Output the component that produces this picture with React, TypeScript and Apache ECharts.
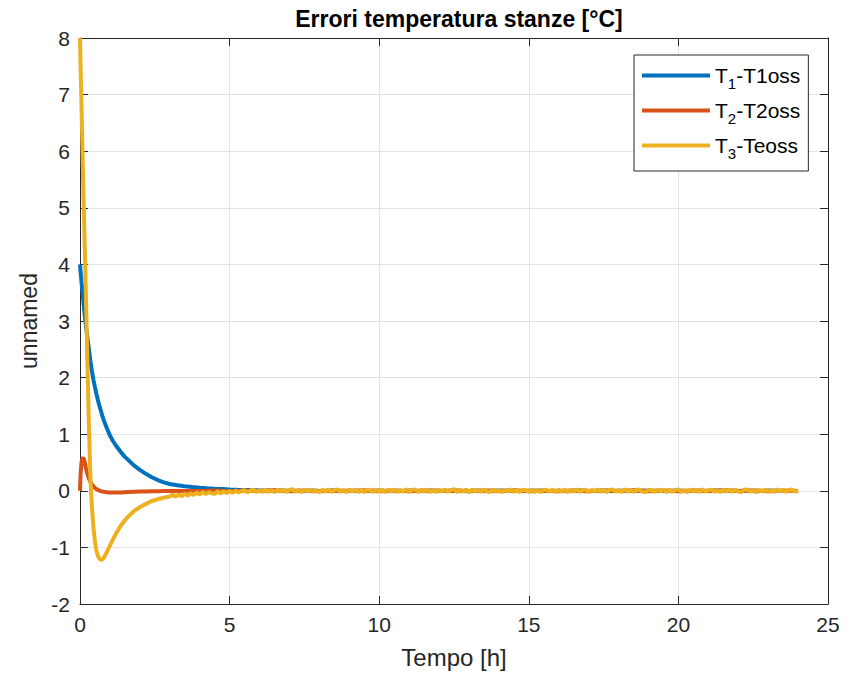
import React, { useEffect, useRef } from "react";
import * as echarts from "echarts";

// Shared sample times for the transient part (hours)
const transientTimes = [
  0, 0.02, 0.05, 0.08, 0.1, 0.13, 0.16, 0.2, 0.25, 0.3, 0.35, 0.4, 0.45, 0.5,
  0.55, 0.6, 0.65, 0.7, 0.75, 0.8, 0.9, 1.0, 1.1, 1.2, 1.3, 1.4, 1.5, 1.6, 1.8,
  2.0, 2.2, 2.4, 2.6, 2.8, 3.0,
];

// T1 - T1oss (blue)
const t1Transient = [
  4.0, 3.87, 3.69, 3.52, 3.41, 3.25, 3.1, 2.91, 2.69, 2.49, 2.29, 2.11, 1.96,
  1.83, 1.71, 1.6, 1.5, 1.41, 1.32, 1.24, 1.1, 0.98, 0.88, 0.8, 0.73, 0.66,
  0.6, 0.55, 0.45, 0.37, 0.3, 0.24, 0.19, 0.15, 0.12,
];
// T2 - T2oss (orange)
const t2Transient = [
  0, 0.3, 0.5, 0.57, 0.58, 0.56, 0.5, 0.4, 0.29, 0.21, 0.16, 0.11, 0.08, 0.05,
  0.03, 0.015, 0.005, -0.005, -0.012, -0.018, -0.025, -0.03, -0.032, -0.032,
  -0.03, -0.028, -0.025, -0.022, -0.018, -0.014, -0.011, -0.009, -0.007,
  -0.005, -0.004,
];
// T3 - Teoss (yellow)
const t3Transient = [
  8.0, 7.5, 6.8, 6.1, 5.6, 4.95, 4.3, 3.4, 2.2, 1.1, 0.2, -0.3, -0.65, -0.9,
  -1.06, -1.15, -1.2, -1.22, -1.21, -1.18, -1.08, -0.97, -0.86, -0.76, -0.67,
  -0.59, -0.52, -0.46, -0.36, -0.29, -0.23, -0.18, -0.15, -0.12, -0.1,
];

// Steady-state parts (noisy around zero)
const t1SteadyStart = 3.25;
const t1SteadyStep = 0.25;
const t1Steady = [
  0.098, 0.08, 0.066, 0.055, 0.045, 0.036, 0.03, 0.024, 0.019, 0.015, 0.012,
  0.009, 0.007, 0.005, 0.004,
  0.002, 0.003, -0.002, 0.004, -0.003, 0.002, 0.005, -0.004, 0.001, 0.003,
  -0.005, 0.002, 0.004, -0.002, 0.003, -0.004, 0.005, 0.0, -0.003, 0.004,
  0.002, -0.005, 0.003, 0.001, -0.002, 0.004, -0.004, 0.002, 0.005, -0.001,
  0.003, -0.003, 0.002, 0.004, 0.0, -0.002, 0.003, -0.004, 0.002, 0.005,
  -0.003, 0.001, 0.004, -0.002, 0.003, -0.005, 0.002, 0.004, -0.001, 0.003,
  -0.004, 0.002, 0.005, -0.002, 0.003, 0.0, -0.003, 0.004, 0.001, 0.002,
  -0.004, 0.003, 0.001, -0.002, 0.004, 0.0,
];
const t2SteadyStart = 3.5;
const t2SteadyStep = 0.5;
const t2Steady = [
  -0.003, -0.002, 0.004, -0.006, 0.007, -0.004, 0.008, -0.007, 0.005, -0.008,
  0.006, -0.003, 0.008, -0.006, 0.004, -0.007, 0.007, -0.005, 0.006, -0.008,
  0.005, -0.004, 0.008, -0.007, 0.003, -0.006, 0.007, -0.008, 0.006, -0.004,
  0.008, -0.006, 0.005, -0.007, 0.006, -0.005, 0.008, -0.003, 0.007, -0.006,
  0.004, -0.005,
];
const t3SteadyStart = 3.1;
const t3SteadyStep = 0.1;
const t3Steady = [
  -0.07, -0.105, -0.065, -0.095, -0.05, -0.085, -0.04, -0.075, -0.03, -0.065,
  -0.02, -0.06, -0.025, -0.04, -0.055, -0.01, -0.045, -0.005, -0.04, 0.0,
  -0.035, 0.005, -0.03, -0.002, 0.01, -0.028, 0.005, 0.018, -0.025, 0.012,
  -0.02, 0.022, -0.018, 0.014, -0.024, 0.02, -0.013, 0.025, -0.022, 0.015,
  0.028, -0.02, 0.016, -0.026, 0.021, -0.014, 0.024, -0.019, 0.013, -0.025,
  0.019, -0.016, 0.026, -0.022, 0.012, 0.023, -0.018, 0.017, -0.027, 0.02,
  -0.013, 0.025, -0.021, 0.016, -0.024, 0.022, 0.004, -0.019, 0.027, -0.016,
  0.018, -0.025, 0.021, -0.012, 0.024, -0.022, 0.015, -0.017, 0.026, -0.02,
  0.013, 0.022, -0.026, 0.019, -0.014, 0.025, -0.021, 0.016, -0.023, 0.02,
  -0.016, 0.024, -0.019, 0.012, 0.027, -0.024, 0.017, -0.013, 0.022, -0.026,
  0.021, -0.015, 0.018, -0.022, 0.025, -0.012, -0.02, 0.023, -0.017, 0.014,
  -0.025, 0.02, -0.014, 0.026, -0.019, 0.016, -0.023, 0.021, 0.011, -0.018,
  0.024, -0.021, 0.015, -0.026, 0.019, 0.013, -0.017, 0.025, -0.022, 0.018,
  -0.012, 0.023, -0.024, 0.016, -0.015, 0.027, -0.02, 0.014, 0.021, -0.025,
  0.017, -0.013, 0.024, -0.019, 0.02, -0.026, 0.015, 0.022, -0.016, 0.012,
  -0.023, 0.026, -0.018, 0.019, -0.021, 0.014, 0.023, -0.014, -0.025, 0.02,
  0.016, -0.022, 0.025, -0.012, 0.018, -0.024, 0.021, -0.017, 0.013, 0.024,
  -0.02, 0.015, -0.026, 0.022, -0.011, 0.019, -0.023, 0.026, -0.016, 0.014,
  0.021, -0.019, 0.012, -0.025, 0.023, -0.014, 0.018, -0.021, 0.025, -0.013,
  -0.022, 0.017, 0.024, -0.018, 0.013, -0.026, 0.02, -0.015, 0.022, -0.02,
  0.015, -0.023, 0.026, -0.012, 0.019, -0.021, 0.014, 0.023, -0.017, 0.005,
];

const seriesNames = ["T1-T1oss", "T2-T2oss", "T3-Teoss"];
const legendLabels = [
  "{n|T}{s|1}{n|-T1oss}",
  "{n|T}{s|2}{n|-T2oss}",
  "{n|T}{s|3}{n|-Teoss}",
];
const seriesColors = ["#0072BD", "#D95319", "#EDB120"];

const xTickInterval = 5;
const xMin = 0;
const xMax = 25;
const yTickInterval = 1;
const yMin = -2;
const yMax = 8;

const titleText = "Errori temperatura stanze [°C]";
const xName = "Tempo [h]";
const yName = "unnamed";

function buildSeries(
  transient: number[],
  start: number,
  step: number,
  steady: number[]
): number[][] {
  const out: number[][] = transientTimes.map((t, i) => [t, transient[i]]);
  steady.forEach((v, i) => {
    out.push([Math.round((start + i * step) * 1000) / 1000, v]);
  });
  return out;
}

const FONT = "'Liberation Sans', Arial, Helvetica, sans-serif";
const AXIS_COLOR = "#262626";

export default function App() {
  const ref = useRef<HTMLDivElement>(null);

  useEffect(() => {
    if (!ref.current) return;
    const chart = echarts.init(ref.current, undefined, { renderer: "svg" });

    const data = [
      buildSeries(t1Transient, t1SteadyStart, t1SteadyStep, t1Steady),
      buildSeries(t2Transient, t2SteadyStart, t2SteadyStep, t2Steady),
      buildSeries(t3Transient, t3SteadyStart, t3SteadyStep, t3Steady),
    ];

    const tickCommon = {
      show: true,
      inside: true,
      length: 8,
      lineStyle: { color: AXIS_COLOR, width: 1 },
    };
    const lineCommon = {
      show: true,
      onZero: false,
      lineStyle: { color: AXIS_COLOR, width: 1 },
    };

    chart.setOption({
      animation: false,
      backgroundColor: "#ffffff",
      title: {
        text: titleText,
        left: 454,
        top: 2,
        textAlign: "center",
        textStyle: {
          fontFamily: FONT,
          fontWeight: "bold",
          fontSize: 23,
          color: "#000000",
        },
      },
      grid: { left: 80, right: 22, top: 38, bottom: 71, containLabel: false },
      legend: {
        orient: "vertical",
        left: 634,
        top: 55,
        padding: [10, 8, 10, 8],
        itemGap: 9,
        itemWidth: 68,
        itemHeight: 4,
        icon: "rect",
        borderColor: AXIS_COLOR,
        borderWidth: 1,
        backgroundColor: "#ffffff",
        data: seriesNames,
        formatter: (name: string) => legendLabels[seriesNames.indexOf(name)],
        textStyle: {
          fontFamily: FONT,
          color: "#000000",
          rich: {
            n: { fontFamily: FONT, fontSize: 21, color: "#000000" },
            s: {
              fontFamily: FONT,
              fontSize: 15,
              color: "#000000",
              padding: [16, 0, 0, 0],
            },
          },
        },
      },
      xAxis: [
        {
          type: "value",
          min: xMin,
          max: xMax,
          interval: xTickInterval,
          position: "bottom",
          name: xName,
          nameLocation: "middle",
          nameGap: 41,
          nameTextStyle: { fontFamily: FONT, fontSize: 24, color: AXIS_COLOR },
          axisLine: lineCommon,
          axisTick: tickCommon,
          axisLabel: {
            fontFamily: FONT,
            fontSize: 21,
            color: AXIS_COLOR,
            margin: 10,
          },
          splitLine: { show: true, lineStyle: { color: "#e3e3e3", width: 1 } },
        },
        {
          type: "value",
          min: xMin,
          max: xMax,
          interval: xTickInterval,
          position: "top",
          axisLine: lineCommon,
          axisTick: tickCommon,
          axisLabel: { show: false },
          splitLine: { show: false },
        },
      ],
      yAxis: [
        {
          type: "value",
          min: yMin,
          max: yMax,
          interval: yTickInterval,
          position: "left",
          name: yName,
          nameLocation: "middle",
          nameGap: 37,
          nameTextStyle: { fontFamily: FONT, fontSize: 23, color: AXIS_COLOR },
          axisLine: lineCommon,
          axisTick: tickCommon,
          axisLabel: {
            fontFamily: FONT,
            fontSize: 21,
            color: AXIS_COLOR,
            margin: 10,
          },
          splitLine: { show: true, lineStyle: { color: "#e3e3e3", width: 1 } },
        },
        {
          type: "value",
          min: yMin,
          max: yMax,
          interval: yTickInterval,
          position: "right",
          axisLine: lineCommon,
          axisTick: tickCommon,
          axisLabel: { show: false },
          splitLine: { show: false },
        },
      ],
      series: seriesNames.map((name, i) => ({
        name,
        type: "line",
        xAxisIndex: 0,
        yAxisIndex: 0,
        data: data[i],
        showSymbol: false,
        symbol: "none",
        clip: true,
        color: seriesColors[i],
        lineStyle: { color: seriesColors[i], width: 4 },
        z: 2 + i,
      })),
    });

    return () => {
      chart.dispose();
    };
  }, []);

  return (
    <div
      ref={ref}
      style={{
        position: "fixed",
        left: 0,
        top: 0,
        width: 850,
        height: 675,
        background: "#ffffff",
      }}
    />
  );
}
